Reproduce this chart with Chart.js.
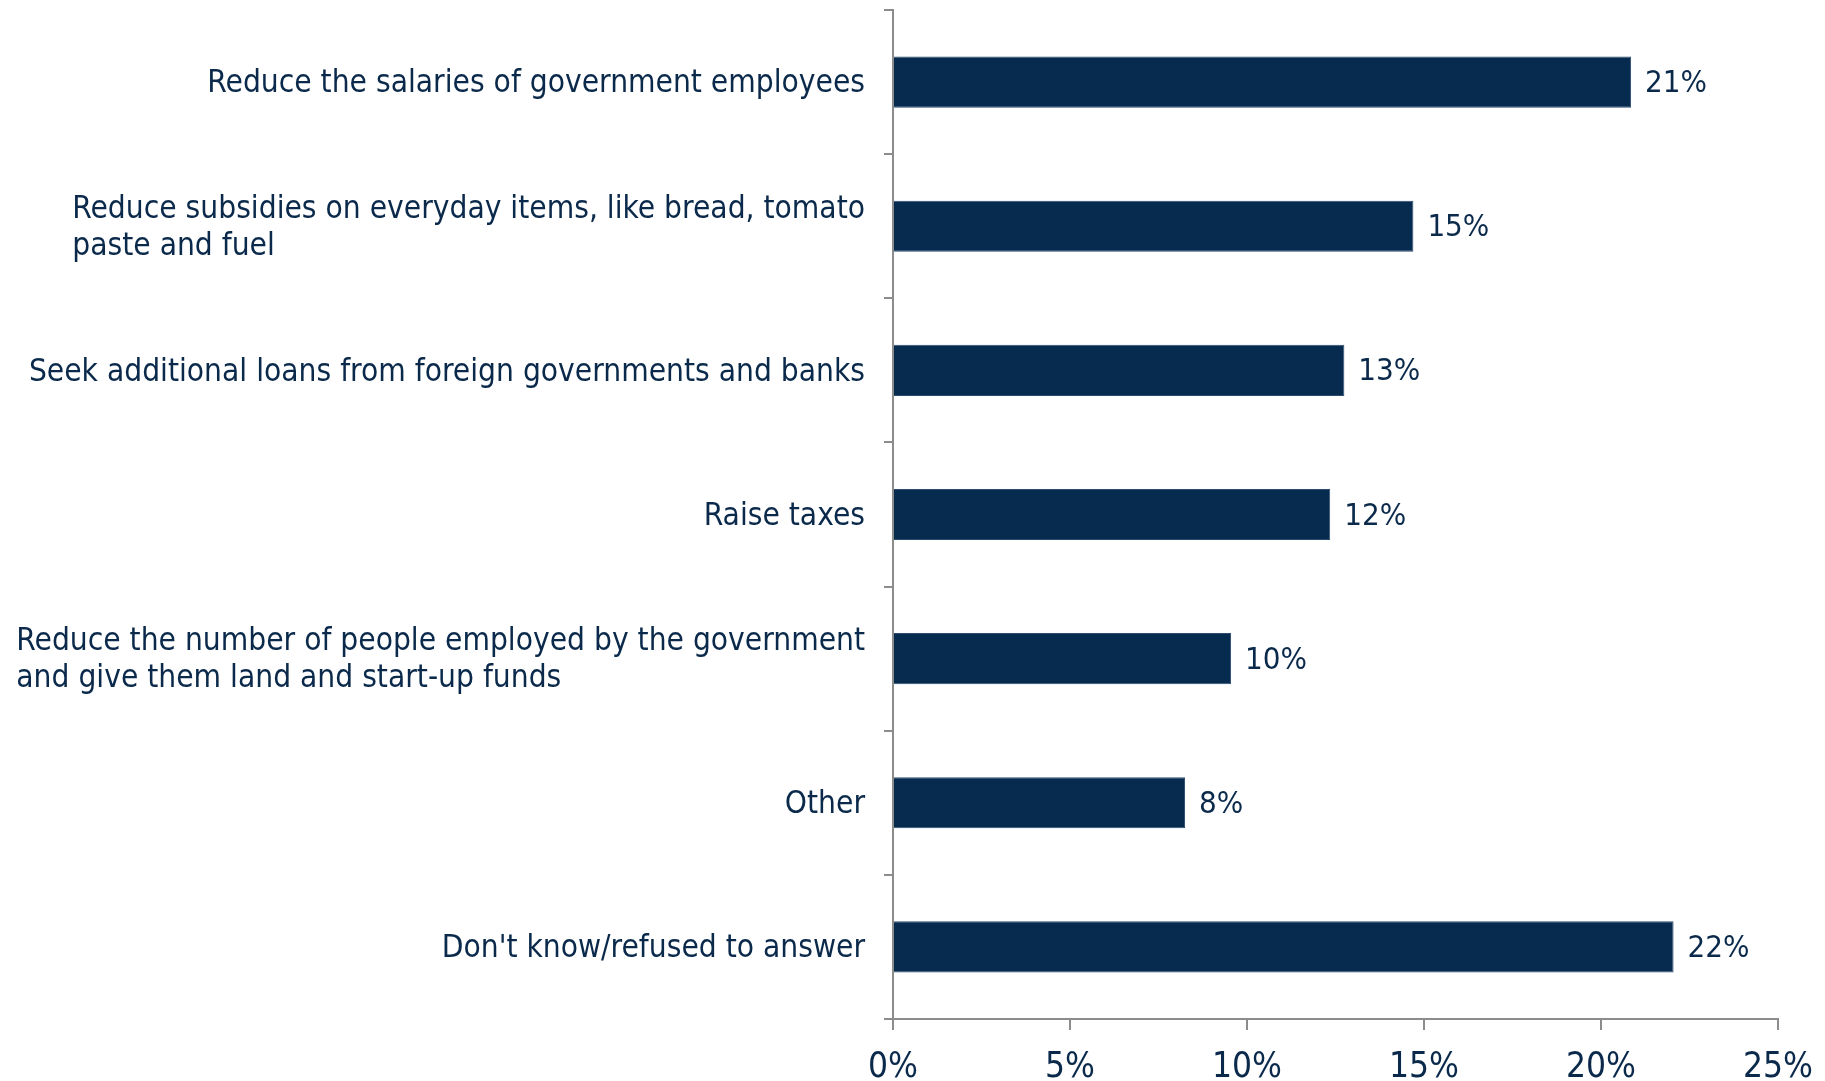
<!DOCTYPE html>
<html>
<head>
<meta charset="utf-8">
<script src="https://cdn.jsdelivr.net/npm/chart.js@4"></script>
<style>
  html, body { margin: 0; padding: 0; background: #fff; }
  #wrap { width: 1825px; height: 1081px; }
</style>
</head>
<body>
<div id="wrap"><canvas id="chart" width="1825" height="1081"></canvas></div>
<script>
const categories = [
  ['Reduce the salaries of government employees'],
  ['Reduce subsidies on everyday items, like bread, tomato', 'paste and fuel'],
  ['Seek additional loans from foreign governments and banks'],
  ['Raise taxes'],
  ['Reduce the number of people employed by the government', 'and give them land and start-up funds'],
  ['Other'],
  ["Don't know/refused to answer"]
];
const values = [20.85, 14.7, 12.75, 12.35, 9.55, 8.25, 22.05];
const valueLabels = ['21%', '15%', '13%', '12%', '10%', '8%', '22%'];
const xTicks = [0, 5, 10, 15, 20, 25];

const navy = '#072b4f';
const textColor = '#0b2a4b';
const axisGrey = '#8c8c8c';
const fontFamily = '"DejaVu Sans Condensed", "DejaVu Sans", sans-serif';

// category labels: block right-aligned to the axis, lines left-aligned inside it
const categoryLabels = {
  id: 'categoryLabels',
  afterDraw(chart) {
    const { ctx } = chart;
    const y = chart.scales.y;
    ctx.save();
    ctx.font = '31.4px ' + fontFamily;
    ctx.fillStyle = textColor;
    ctx.textBaseline = 'middle';
    ctx.textAlign = 'left';
    const lineH = 37;
    const right = y.right - 28;
    categories.forEach((lines, i) => {
      const w = Math.max(...lines.map(l => ctx.measureText(l).width));
      const cy = y.getPixelForTick(i) + 2;
      const top = cy - (lines.length - 1) * lineH / 2;
      lines.forEach((l, j) => ctx.fillText(l, right - w, top + j * lineH));
    });
    ctx.restore();
  }
};

// value labels at the end of each bar
const valueLabelsPlugin = {
  id: 'valueLabels',
  afterDatasetsDraw(chart) {
    const { ctx } = chart;
    const meta = chart.getDatasetMeta(0);
    ctx.save();
    ctx.font = '31px ' + fontFamily;
    ctx.fillStyle = textColor;
    ctx.textBaseline = 'middle';
    ctx.textAlign = 'left';
    meta.data.forEach((bar, i) => {
      ctx.fillText(valueLabels[i], bar.x + 14, bar.y + 2);
    });
    ctx.restore();
  }
};

new Chart(document.getElementById('chart'), {
  type: 'bar',
  data: {
    labels: categories.map(c => c.join(' ')),
    datasets: [{
      data: values,
      backgroundColor: navy,
      borderColor: '#2d4d70',
      borderWidth: 1,
      categoryPercentage: 1,
      barPercentage: 0.355
    }]
  },
  options: {
    indexAxis: 'y',
    responsive: false,
    animation: false,
    layout: { padding: { top: 10, right: 47, left: 0, bottom: 0 } },
    plugins: {
      legend: { display: false },
      tooltip: { enabled: false }
    },
    scales: {
      x: {
        min: 0,
        max: 25,
        afterBuildTicks: s => { s.ticks = xTicks.map(v => ({ value: v })); },
        afterFit: s => { s.height = 62; s.paddingLeft = 0; s.paddingRight = 0; },
        border: { display: true, color: axisGrey, width: 2 },
        grid: { drawOnChartArea: false, drawTicks: true, tickLength: 11, color: axisGrey, lineWidth: 2 },
        ticks: {
          padding: 17,
          color: textColor,
          font: { family: fontFamily, size: 35 },
          callback: v => v + '%'
        }
      },
      y: {
        afterFit: s => { s.width = 893; s.paddingTop = 0; s.paddingBottom = 0; },
        border: { display: true, color: axisGrey, width: 2 },
        grid: { offset: true, drawOnChartArea: false, drawTicks: true, tickLength: 9, color: axisGrey, lineWidth: 2 },
        ticks: { display: false }
      }
    }
  },
  plugins: [categoryLabels, valueLabelsPlugin]
});
</script>
</body>
</html>
